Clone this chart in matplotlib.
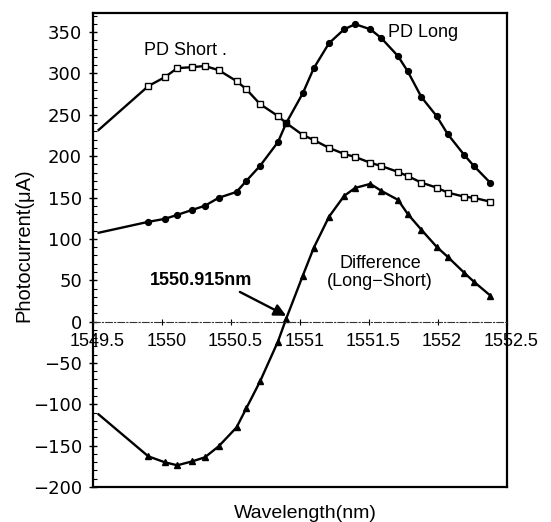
import matplotlib
matplotlib.use("Agg")
from matplotlib import pyplot as plt
from matplotlib.ticker import MultipleLocator
import matplotlib.transforms as mtransforms

plt.rcParams['font.family'] = ['Liberation Sans', 'DejaVu Sans']

# wavelength grid (nm), first point has no marker
wavelength = [1549.54, 1549.90, 1550.02, 1550.11, 1550.22, 1550.31, 1550.41,
              1550.54, 1550.61, 1550.71, 1550.84, 1550.90, 1551.02, 1551.10,
              1551.21, 1551.32, 1551.40, 1551.51, 1551.59, 1551.71, 1551.78,
              1551.88, 1551.99, 1552.07, 1552.19, 1552.26, 1552.38]

# photocurrent (uA)
pd_short = [231.7, 284.7, 295.5, 306.4, 307.6, 309.0, 304.0, 290.7, 281.0,
            263.0, 248.5, 240.0, 225.6, 219.5, 210.0, 202.7, 199.0, 192.0,
            188.0, 181.0, 176.0, 168.0, 162.0, 156.0, 151.0, 149.6, 145.0]
pd_long = [107.4, 120.6, 124.2, 129.0, 135.1, 140.0, 149.6, 156.8, 170.0,
           188.2, 217.0, 240.0, 276.0, 306.4, 336.5, 353.4, 359.5, 353.4,
           342.6, 321.0, 302.8, 271.4, 248.5, 226.8, 201.5, 188.2, 167.7]
difference = [-112.2, -162.9, -170.1, -173.7, -168.9, -164.1, -150.8, -127.9,
              -105.0, -72.4, -24.1, 3.6, 55.5, 89.3, 126.7, 152.0, 161.6,
              166.5, 158.0, 147.2, 130.3, 111.0, 90.5, 78.4, 59.1, 48.3, 31.4]

xticks = [1549.5, 1550, 1550.5, 1551, 1551.5, 1552, 1552.5]
xtick_labels = ["1549.5", "1550", "1550.5", "1551", "1551.5", "1552", "1552.5"]
yticks = list(range(-200, 351, 50))

fig = plt.figure(figsize=(5.51, 5.22), dpi=100)
ax = fig.add_axes([0.169, 0.067, 0.751, 0.908])

marks = list(range(1, len(wavelength)))
ax.plot(wavelength, pd_short, color='black', lw=1.7, marker='s', ms=3.8,
        mfc='white', mec='black', mew=1.0, markevery=marks)
ax.plot(wavelength, pd_long, color='black', lw=1.7, marker='o', ms=4.2,
        mfc='black', mec='black', markevery=marks)
ax.plot(wavelength, difference, color='black', lw=1.7, marker='^', ms=4.8,
        mfc='black', mec='black', markevery=marks)

ax.set_xlim(1549.5, 1552.5)
ax.set_ylim(-200, 373)

# x axis drawn along the zero line
ax.spines['bottom'].set_position(('data', 0))
ax.spines['bottom'].set_linestyle((0, (6, 2, 1, 2)))
ax.spines['bottom'].set_linewidth(0.8)
ax.spines['bottom'].set_color('#333333')
for side in ['left', 'right', 'top']:
    ax.spines[side].set_linewidth(1.6)
# bottom edge of the frame
ax.plot([0, 1], [0, 0], transform=ax.transAxes, color='black', lw=1.6,
        clip_on=False)

ax.set_xticks(xticks)
ax.set_xticklabels(xtick_labels, fontsize=13)
ax.tick_params(axis='x', direction='inout', length=5, width=0.8, pad=6)
offset = mtransforms.ScaledTranslation(3 / 72, 0, fig.dpi_scale_trans)
for lab in ax.get_xticklabels():
    lab.set_transform(lab.get_transform() + offset)

ax.set_yticks(yticks)
ax.set_yticklabels([str(v).replace('-', '\u2212') for v in yticks],
                   fontsize=13, family='DejaVu Sans')
ax.yaxis.set_minor_locator(MultipleLocator(10))
ax.tick_params(axis='y', which='major', direction='inout', length=6, width=1.0, pad=5)
ax.tick_params(axis='y', which='minor', direction='in', length=3, width=0.8)

ax.set_ylabel("Photocurrent(\u03bcA)", fontsize=14.5)
ax.yaxis.set_label_coords(-0.167, 0.51)
ax.yaxis.label.set_va('center')
ax.set_xlabel("Wavelength(nm)", fontsize=14)
ax.xaxis.set_label_coords(0.514, -0.038)

ax.text(1550.17, 328, "PD Short .", fontsize=13, ha='center', va='center')
ax.text(1551.89, 349, "PD Long", fontsize=13, ha='center', va='center')
ax.text(1551.58, 59, "Difference\n(Long\u2212Short)", fontsize=13,
        ha='center', va='center', linespacing=1.1)
ax.annotate("1550.915nm", xy=(1550.90, 7), xytext=(1550.28, 49.5),
            fontsize=13, fontweight='bold', ha='center', va='center',
            arrowprops=dict(arrowstyle='-|>', color='black', lw=1.7,
                            mutation_scale=18, shrinkA=0, shrinkB=0,
                            relpos=(0.83, 0.0)))

fig.savefig("out.png", dpi=100)
